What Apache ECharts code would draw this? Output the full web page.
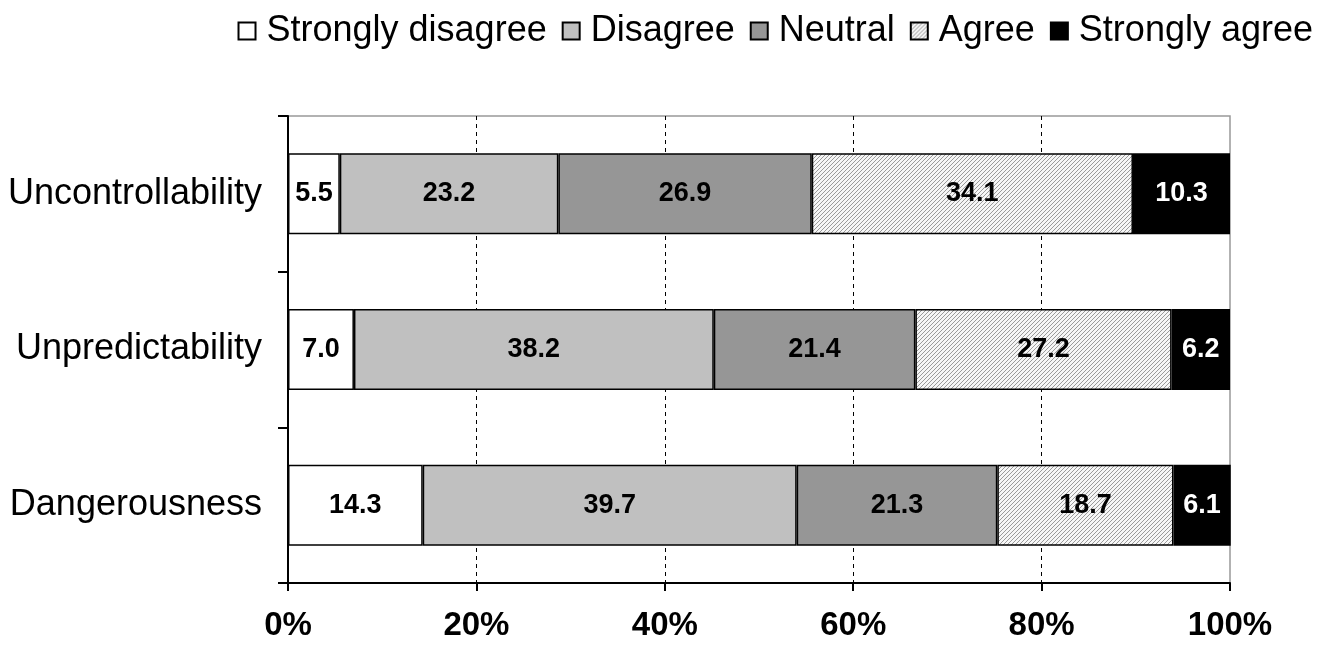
<!DOCTYPE html>
<html><head><meta charset="utf-8">
<script src="https://cdn.jsdelivr.net/npm/echarts@6/dist/echarts.min.js"></script>
<style>html,body{margin:0;padding:0;background:#fff}#c{width:1320px;height:648px}</style>
</head><body><div id="c"></div>
<script>
const categories = ['Uncontrollability', 'Unpredictability', 'Dangerousness'];
const seriesNames = ['Strongly disagree', 'Disagree', 'Neutral', 'Agree', 'Strongly agree'];
const stronglyDisagree = [5.5, 7.0, 14.3];
const disagree = [23.2, 38.2, 39.7];
const neutral = [26.9, 21.4, 21.3];
const agree = [34.1, 27.2, 18.7];
const stronglyAgree = [10.3, 6.2, 6.1];
const xTicks = [0, 20, 40, 60, 80, 100];

function hatch() {
  const c = document.createElement('canvas');
  c.width = 4; c.height = 4;
  const g = c.getContext('2d');
  g.fillStyle = '#f6f6f6'; g.fillRect(0, 0, 4, 4);
  g.strokeStyle = '#9a9a9a'; g.lineWidth = 1;
  g.beginPath();
  g.moveTo(-1, 5); g.lineTo(5, -1);
  g.moveTo(-1, 1); g.lineTo(1, -1);
  g.moveTo(3, 5); g.lineTo(5, 3);
  g.stroke();
  return c;
}
const fills = ['#ffffff', '#c0c0c0', '#969696', {image: hatch(), repeat: 'repeat'}, '#000000'];
const dataSets = [stronglyDisagree, disagree, neutral, agree, stronglyAgree];
const font = '"Liberation Sans", Arial, sans-serif';

const chart = echarts.init(document.getElementById('c'));
chart.setOption({
  animation: false,
  legend: {
    top: 8, right: 2, itemWidth: 17, itemHeight: 17, itemGap: 15, icon: 'rect',
    textStyle: {fontFamily: font, fontSize: 36, color: '#000', padding: [0, 0, 0, 6]},
    data: seriesNames
  },
  grid: {left: 288, right: 90, top: 116, bottom: 65, show: true, borderColor: '#999', borderWidth: 1.5},
  xAxis: {
    type: 'value', min: 0, max: 100, interval: 20,
    axisLine: {show: true, lineStyle: {color: '#000', width: 2}},
    axisTick: {show: true, length: 8, lineStyle: {color: '#000', width: 2}},
    axisLabel: {formatter: v => xTicks.includes(v) ? v + '%' : '', fontFamily: font, fontSize: 33, fontWeight: 'bold', color: '#000', margin: 26},
    splitLine: {show: true, showMinLine: false, showMaxLine: false, lineStyle: {color: '#000', type: [4, 4], width: 1}}
  },
  yAxis: {
    type: 'category', data: categories, inverse: true,
    axisLine: {show: true, lineStyle: {color: '#000', width: 2}},
    axisTick: {show: true, length: 10, lineStyle: {color: '#000', width: 2}},
    axisLabel: {fontFamily: font, fontSize: 36, color: '#000', margin: 26}
  },
  series: seriesNames.map((n, i) => ({
    name: n, type: 'bar', stack: 'all', barWidth: '52%',
    data: dataSets[i],
    itemStyle: {color: fills[i], borderColor: '#000', borderWidth: 1.5},
    label: {show: true, position: 'inside', formatter: p => p.value.toFixed(1),
      fontFamily: font, fontSize: 27, fontWeight: 'bold', color: i === 4 ? '#fff' : '#000'}
  }))
});
</script></body></html>
